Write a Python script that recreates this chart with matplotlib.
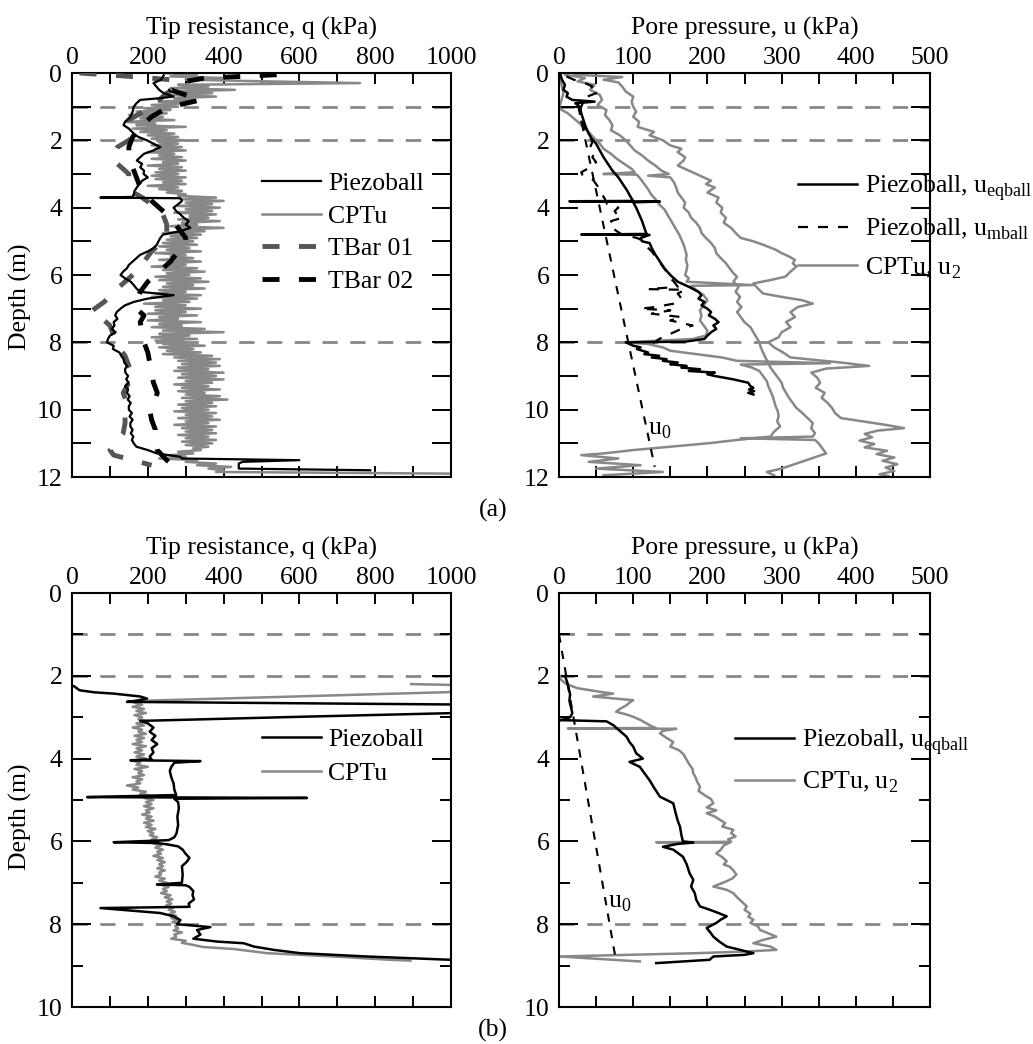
import numpy as np
import matplotlib
matplotlib.use("Agg")
import matplotlib.pyplot as plt
from matplotlib.lines import Line2D

plt.rcParams['font.family'] = ['Liberation Serif', 'DejaVu Serif']
plt.rcParams['mathtext.fontset'] = 'custom'
plt.rcParams['mathtext.rm'] = 'Liberation Serif'
plt.rcParams['font.size'] = 18.5

GRAY = '#888888'
DARK = '#555555'

# ---------------- (a) tip resistance ----------------
piezo_a_depth = [
    0.07, 0.2, 0.3, 0.42, 0.5, 0.6, 0.7, 0.75, 0.8, 0.9,
    1.0, 1.15, 1.3, 1.45, 1.55, 1.65, 1.8, 1.9, 2.0, 2.1,
    2.2, 2.3, 2.4, 2.5, 2.6, 2.7, 2.8, 2.9, 3.0, 3.1,
    3.2, 3.3, 3.4, 3.5, 3.6, 3.68, 3.7, 3.72, 3.8, 3.9,
    4.0, 4.1, 4.2, 4.3, 4.4, 4.5, 4.6, 4.7, 4.8, 4.9,
    5.0, 5.1, 5.2, 5.3, 5.4, 5.5, 5.6, 5.7, 5.8, 5.9,
    6.0, 6.1, 6.2, 6.3, 6.4, 6.5, 6.6, 6.7, 6.8, 6.9,
    7.0, 7.1, 7.2, 7.3, 7.4, 7.5, 7.6, 7.7, 7.8, 7.9,
    8.0, 8.1, 8.2, 8.3, 8.4, 8.5, 8.6, 8.7, 8.8, 8.9,
    9.0, 9.1, 9.2, 9.3, 9.4, 9.5, 9.6, 9.7, 9.8, 9.9,
    10.0, 10.1, 10.2, 10.3, 10.4, 10.5, 10.6, 10.7, 10.8, 10.9,
    11.0, 11.1, 11.2, 11.3, 11.4, 11.45, 11.5, 11.55, 11.6, 11.75,
    11.8]
piezo_a_q = [
    242, 235, 215, 224, 230, 242, 268, 230, 180, 170,
    163, 160, 154, 140, 136, 150, 163, 175, 198, 215,
    233, 215, 190, 180, 171, 185, 180, 190, 189, 200,
    185, 178, 171, 165, 163, 160, 75, 286, 290, 280,
    268, 275, 286, 295, 308, 300, 312, 285, 240, 233,
    228, 224, 215, 200, 180, 170, 160, 150, 145, 135,
    128, 140, 155, 163, 170, 180, 268, 200, 163, 140,
    128, 118, 114, 120, 110, 112, 105, 115, 100, 95,
    92, 110, 108, 125, 130, 136, 138, 145, 140, 141,
    148, 143, 150, 140, 148, 145, 152, 147, 155, 150,
    150, 158, 152, 160, 154, 154, 160, 155, 162, 158,
    163, 170, 200, 224, 286, 290, 600, 450, 440, 440,
    787]

# CPTu tip resistance, sampled every 0.05 m from 0 m
cptu_a_q = [
    240, 330, 260, 400, 300, 520, 760, 280, 360, 260, 430, 280, 370, 250, 380, 270, 320, 230, 300, 210,
    280, 190, 260, 170, 250, 150, 240, 180, 270, 140, 220, 170, 300, 160, 250, 180, 270, 200, 280, 210,
    300, 230, 280, 210, 290, 220, 300, 200, 270, 230, 290, 210, 300, 240, 280, 200, 290, 230, 300, 220,
    280, 210, 300, 220, 290, 240, 300, 200, 280, 230, 290, 250, 300, 280, 380, 290, 400, 300, 370, 280,
    390, 300, 370, 270, 380, 310, 360, 280, 390, 290, 330, 260, 400, 280, 350, 240, 340, 260, 330, 250,
    320, 240, 330, 230, 310, 250, 340, 220, 300, 260, 320, 230, 340, 250, 300, 210, 330, 240, 350, 250,
    310, 220, 340, 230, 360, 250, 320, 240, 350, 230, 300, 220, 340, 210, 330, 240, 310, 190, 300, 220,
    340, 220, 300, 200, 330, 230, 280, 200, 340, 230, 290, 210, 350, 240, 400, 230, 310, 210, 330, 220,
    300, 240, 350, 230, 320, 250, 340, 240, 370, 270, 390, 280, 380, 290, 390, 280, 360, 270, 400, 290,
    380, 280, 400, 300, 370, 270, 360, 290, 390, 280, 350, 300, 390, 290, 410, 300, 370, 280, 380, 290,
    360, 270, 380, 300, 370, 280, 390, 300, 360, 270, 380, 290, 370, 300, 380, 280, 360, 300, 380, 290,
    370, 300, 360, 320, 340, 280, 320, 260, 300, 230, 330, 300, 380, 330, 420, 360, 400, 380, 1000]
cptu_a_depth = np.arange(len(cptu_a_q)) * 0.05

tbar1_depth = [
    0.0, 0.1, 0.2, 0.4, 0.6, 0.8, 1.0, 1.2, 1.4, 1.6,
    1.8, 2.0, 2.2, 2.5, 2.7, 3.0, 3.3, 3.5, 3.7, 3.9,
    4.2, 4.5, 4.8, 5.0, 5.3, 5.6, 5.9, 6.2, 6.5, 6.8,
    7.0, 7.1, 7.2, 7.5, 7.8, 8.1, 8.4, 8.7, 9.0, 9.2,
    9.5, 9.8, 10.1, 10.4, 10.7, 11.0, 11.2, 11.35, 11.5, 11.65]
tbar1_q = [
    20, 150, 260, 280, 250, 230, 200, 180, 150, 160,
    165, 150, 120, 105, 120, 150, 150, 155, 185, 210,
    240, 250, 250, 240, 210, 190, 170, 140, 110, 85,
    60, 50, 70, 100, 110, 120, 140, 150, 165, 150,
    135, 145, 140, 140, 135, 110, 100, 110, 160, 210]

tbar2_depth = [
    0.05, 0.1, 0.15, 0.25, 0.35, 0.5, 0.65, 0.8, 0.95, 1.1,
    1.3, 1.5, 1.7, 1.9, 2.2, 2.5, 2.8, 3.1, 3.4, 3.7,
    4.0, 4.3, 4.6, 4.9, 5.1, 5.3, 5.6, 5.9, 6.2, 6.5,
    6.8, 7.0, 7.2, 7.4, 7.7, 8.0, 8.3, 8.6, 8.9, 9.2,
    9.5, 9.7, 10.0, 10.3, 10.6, 10.9, 11.2, 11.5, 11.7]
tbar2_q = [
    540, 450, 350, 300, 270, 260, 300, 340, 280, 240,
    210, 190, 175, 160, 150, 150, 160, 170, 180, 200,
    230, 260, 280, 300, 300, 280, 260, 230, 200, 180,
    170, 170, 190, 180, 185, 190, 200, 205, 210, 215,
    225, 220, 205, 210, 220, 220, 225, 250, 270]

# ---------------- (a) pore pressure ----------------
eq_a_depth = [
    0.05, 0.2, 0.35, 0.5, 0.6, 0.7, 0.8, 0.85, 0.9, 1.0,
    1.2, 1.4, 1.6, 1.8, 1.95, 2.1, 2.3, 2.5, 2.7, 2.9,
    3.1, 3.3, 3.5, 3.7, 3.8, 3.81, 3.82, 3.84, 4.0, 4.2,
    4.4, 4.6, 4.78, 4.8, 4.81, 4.9, 5.0, 5.05, 5.2, 5.4,
    5.6, 5.8, 6.0, 6.2, 6.35, 6.5, 6.6, 6.7, 6.8, 6.9,
    7.0, 7.1, 7.2, 7.3, 7.4, 7.5, 7.6, 7.7, 7.8, 7.9,
    7.98, 8.0, 8.05, 8.1, 8.15, 8.2, 8.3, 8.35, 8.4, 8.45,
    8.5, 8.55, 8.6, 8.65, 8.7, 8.75, 8.8, 8.85, 8.9, 8.95,
    9.0, 9.1, 9.2, 9.3, 9.35, 9.4, 9.45, 9.5, 9.55]
eq_a_u = [
    2, 4, 8, 6, 12, 10, 18, 48, 22, 28,
    30, 33, 36, 40, 44, 50, 55, 60, 66, 72,
    80, 86, 92, 97, 100, 14, 136, 100, 104, 108,
    112, 115, 118, 30, 122, 110, 112, 122, 125, 130,
    136, 142, 150, 160, 175, 188, 192, 188, 196, 192,
    200, 205, 202, 210, 215, 208, 212, 205, 200, 196,
    170, 90, 95, 100, 110, 105, 120, 115, 135, 125,
    145, 140, 160, 150, 172, 165, 190, 175, 210, 200,
    210, 235, 255, 258, 262, 256, 263, 255, 262]

mb_a_depth = [
    0.1, 0.2, 0.3, 0.4, 0.5, 0.6, 0.7, 0.8, 0.9, 1.0,
    1.15, 1.3, 1.45, 1.6, 1.75, 1.9, 2.05, 2.2, 2.35, 2.5,
    2.65, 2.8, 2.95, 3.05, 3.15, 3.3, 3.45, 3.6, 3.75, 3.9,
    4.0, 4.1, 4.2, 4.3, 4.4, 4.5, 4.6, 4.7, 4.8, 4.9,
    5.0, 5.15, 5.3, 5.45, 5.6, 5.75, 5.9, 6.05, 6.2, 6.35,
    6.42, 6.44, 6.55, 6.7, 6.85, 6.95, 7.0, 7.05, 7.15, 7.25,
    7.35, 7.5, 7.6, 7.75, 7.9, 8.05, 8.1]
mb_a_u = [
    10, 20, 35, 45, 40, 50, 38, 30, 32, 30,
    28, 32, 30, 34, 36, 42, 45, 42, 48, 45,
    50, 42, 30, 32, 45, 50, 55, 58, 62, 65,
    80, 75, 78, 85, 70, 75, 72, 78, 85, 105,
    115, 118, 125, 130, 135, 140, 145, 148, 155, 160,
    120, 170, 160, 165, 155, 130, 110, 150, 125, 165,
    150, 180, 165, 150, 135, 125, 130]

cpt1_a_depth = [
    0.05, 0.12, 0.2, 0.28, 0.4, 0.55, 0.7, 0.85, 1.0, 1.15,
    1.3, 1.45, 1.6, 1.75, 1.85, 2.0, 2.15, 2.25, 2.35, 2.5,
    2.6, 2.75, 2.9, 3.05, 3.2, 3.3, 3.4, 3.55, 3.7, 3.85,
    4.0, 4.15, 4.3, 4.45, 4.6, 4.75, 4.9, 5.0, 5.1, 5.25,
    5.35, 5.45, 5.55, 5.65, 5.75, 5.9, 6.05, 6.15, 6.25, 6.4,
    6.55, 6.65, 6.75, 6.85, 6.95, 7.1, 7.25, 7.4, 7.55, 7.7,
    7.85, 8.0, 8.15, 8.3, 8.45, 8.6, 8.7, 8.78, 8.9, 9.05,
    9.2, 9.35, 9.5, 9.65, 9.8, 9.95, 10.1, 10.25, 10.35, 10.45,
    10.55, 10.62, 10.72, 10.82, 10.92, 11.02, 11.12, 11.22, 11.32, 11.42,
    11.52, 11.62, 11.72, 11.82, 11.92, 11.98]
cpt1_a_u = [
    20, 85, 60, 80, 85, 90, 100, 98, 100, 104,
    100, 108, 106, 128, 122, 140, 150, 165, 160, 170,
    168, 160, 175, 190, 205, 198, 210, 200, 215, 212,
    220, 218, 225, 222, 232, 238, 245, 262, 275, 292,
    300, 310, 318, 315, 320, 312, 305, 285, 262, 268,
    275, 300, 328, 342, 322, 312, 318, 306, 312, 300,
    296, 282, 290, 302, 312, 380, 418, 360, 340, 348,
    352, 346, 358, 354, 362, 368, 372, 380, 410, 440,
    465, 430, 412, 422, 405, 425, 412, 442, 428, 452,
    436, 456, 440, 452, 432, 445]

cpt2_a_depth = [
    0.05, 0.15, 0.25, 0.35, 0.5, 0.65, 0.8, 0.95, 1.1, 1.25,
    1.4, 1.55, 1.7, 1.85, 2.0, 2.15, 2.3, 2.45, 2.6, 2.75,
    2.9, 3.0, 3.05, 3.1, 3.25, 3.4, 3.55, 3.7, 3.85, 4.0,
    4.15, 4.3, 4.45, 4.6, 4.75, 4.9, 5.05, 5.2, 5.35, 5.5,
    5.65, 5.8, 5.95, 6.05, 6.2, 6.35, 6.5, 6.65, 6.8, 6.95,
    7.1, 7.25, 7.4, 7.55, 7.7, 7.85, 8.0, 8.15, 8.3, 8.45,
    8.6, 8.75, 8.9, 9.05, 9.2, 9.35, 9.5, 9.65, 9.8, 9.95,
    10.1, 10.25, 10.4, 10.55, 10.7, 10.8, 10.85, 10.9, 11.0, 11.15,
    11.3, 11.45, 11.6, 11.75, 11.85, 11.95]
cpt2_a_u = [
    8, 35, 25, 48, 42, 55, 58, 52, 64, 62,
    68, 72, 70, 82, 90, 96, 102, 112, 120, 130,
    138, 148, 120, 150, 155, 158, 160, 165, 170, 168,
    175, 178, 185, 190, 192, 198, 205, 210, 212, 218,
    225, 230, 235, 240, 235, 242, 238, 244, 240, 246,
    240, 245, 250, 258, 262, 266, 270, 272, 275, 278,
    282, 285, 290, 295, 300, 302, 306, 310, 315, 320,
    328, 335, 342, 340, 345, 342, 245, 345, 350, 355,
    360, 340, 320, 300, 280, 290]

cpt3_a_depth = [
    0.05, 0.3, 0.6, 0.9, 1.05, 1.2, 1.35, 1.5, 1.65, 1.8,
    1.95, 2.1, 2.25, 2.4, 2.55, 2.7, 2.85, 2.95, 3.0, 3.02,
    3.15, 3.3, 3.45, 3.6, 3.75, 3.9, 4.05, 4.2, 4.35, 4.5,
    4.65, 4.8, 4.95, 5.1, 5.25, 5.4, 5.55, 5.7, 5.85, 6.0,
    6.1, 6.2, 6.3, 6.32, 6.45, 6.6, 6.75, 6.9, 7.05, 7.2,
    7.35, 7.5, 7.65, 7.8, 7.9, 8.0, 8.05, 8.15, 8.25, 8.35,
    8.45, 8.55, 8.62, 8.66, 8.75, 8.85, 9.0, 9.15, 9.3, 9.45,
    9.6, 9.75, 9.9, 10.05, 10.2, 10.35, 10.5, 10.65, 10.8, 10.9,
    11.0, 11.1, 11.2, 11.3, 11.35, 11.45, 11.55, 11.65, 11.75, 11.85,
    11.95]
cpt3_a_u = [
    0, 3, 6, 2, 0, 12, 20, 28, 35, 42,
    48, 55, 60, 70, 78, 88, 98, 102, 60, 105,
    110, 115, 120, 124, 130, 135, 142, 146, 150, 154,
    158, 162, 165, 168, 170, 172, 171, 173, 172, 170,
    175, 172, 262, 178, 185, 195, 200, 195, 190, 192,
    190, 195, 200, 198, 180, 90, 120, 140, 150, 185,
    220, 240, 365, 245, 260, 270, 275, 280, 282, 285,
    288, 290, 292, 295, 296, 294, 298, 290, 285, 240,
    200, 150, 100, 60, 30, 80, 40, 110, 50, 140,
    60]

u0_a_depth = [1.0, 11.7]
u0_a_u = [26, 129]

# ---------------- (b) tip resistance ----------------
piezo_b_depth = [
    2.25, 2.35, 2.4, 2.43, 2.47, 2.5, 2.55, 2.6, 2.63, 2.7,
    2.88, 2.99, 3.09, 3.15, 3.25, 3.35, 3.45, 3.55, 3.65, 3.75,
    3.85, 3.95, 4.02, 4.04, 4.06, 4.1, 4.2, 4.3, 4.45, 4.6,
    4.75, 4.88, 4.93, 4.95, 4.97, 5.05, 5.2, 5.4, 5.6, 5.8,
    5.9, 5.97, 6.02, 6.04, 6.07, 6.12, 6.2, 6.3, 6.4, 6.5,
    6.6, 6.8, 7.0, 7.04, 7.06, 7.1, 7.2, 7.3, 7.4, 7.5,
    7.58, 7.61, 7.73, 7.81, 7.9, 8.0, 8.07, 8.14, 8.25, 8.35,
    8.42, 8.46, 8.54, 8.62, 8.7, 8.78, 8.86]
piezo_b_q = [
    5, 20, 60, 110, 150, 180, 198, 170, 145, 1100,
    1100, 602, 180, 200, 215, 205, 220, 210, 225, 210,
    215, 205, 210, 154, 339, 270, 262, 258, 262, 268,
    270, 275, 40, 620, 270, 280, 282, 278, 280, 276,
    270, 255, 110, 224, 250, 280, 292, 300, 310, 302,
    290, 292, 290, 224, 300, 310, 320, 318, 322, 308,
    310, 75, 233, 268, 286, 277, 365, 330, 339, 320,
    383, 453, 480, 532, 602, 778, 1000]

cptu_b_head_depth = [2.2, 2.23, 2.38]
cptu_b_head_q = [895, 1050, 1050]
# CPTu noisy part, every 0.05 m from 2.60 m
cptu_b_q = [
    200, 165, 185, 160, 190, 170, 195, 165, 185, 175, 200, 170, 190, 160, 185, 175, 195, 165, 190, 170,
    185, 160, 195, 170, 185, 165, 190, 170, 195, 160, 180, 170, 200, 165, 185, 175, 190, 160, 185, 170,
    180, 145, 175, 160, 195, 180, 210, 190, 215, 195, 210, 190, 215, 195, 205, 185, 210, 195, 215, 190,
    210, 195, 220, 200, 215, 205, 225, 210, 230, 215, 235, 220, 240, 225, 235, 215, 240, 225, 245, 230,
    240, 225, 245, 230, 235, 220, 245, 230, 250, 235, 255, 240, 250, 235, 260, 245, 265, 250, 262, 248,
    268, 255, 272, 258, 275, 262, 278, 265, 285, 272, 280, 268, 290, 270, 275, 262, 300, 290, 320, 345]
cptu_b_depth = 2.6 + np.arange(len(cptu_b_q)) * 0.05
cptu_b_tail_depth = [8.6, 8.7, 8.78, 8.86, 8.88]
cptu_b_tail_q = [427, 515, 690, 840, 893]

# ---------------- (b) pore pressure ----------------
eq_b_depth = [
    2.0, 2.15, 2.3, 2.45, 2.6, 2.75, 2.9, 3.0, 3.05, 3.07,
    3.1, 3.19, 3.3, 3.47, 3.6, 3.71, 3.87, 4.0, 4.08, 4.2,
    4.35, 4.52, 4.7, 4.92, 5.08, 5.3, 5.5, 5.64, 5.85, 6.0,
    6.03, 6.06, 6.13, 6.2, 6.37, 6.55, 6.77, 6.93, 7.09, 7.25,
    7.41, 7.57, 7.65, 7.73, 7.81, 7.89, 7.97, 8.09, 8.2, 8.3,
    8.42, 8.54, 8.62, 8.7, 8.74, 8.78, 8.86, 8.94]
eq_b_u = [
    8, 11, 13, 15, 14, 16, 18, 15, 8, 1,
    64, 73, 80, 91, 95, 100, 104, 113, 95, 109,
    115, 122, 128, 136, 154, 157, 160, 163, 165, 167,
    181, 160, 140, 154, 167, 172, 176, 181, 178, 183,
    185, 190, 203, 215, 226, 218, 212, 199, 204, 208,
    216, 226, 244, 262, 250, 208, 203, 131]

cpt_b_u_depth = [
    2.0, 2.1, 2.2, 2.3, 2.4, 2.43, 2.5, 2.59, 2.65, 2.71,
    2.8, 2.87, 2.93, 2.99, 3.07, 3.15, 3.22, 3.26, 3.27, 3.28,
    3.33, 3.39, 3.5, 3.6, 3.71, 3.8, 3.9, 4.03, 4.15, 4.25,
    4.36, 4.45, 4.55, 4.68, 4.78, 4.88, 4.98, 5.08, 5.18, 5.25,
    5.32, 5.4, 5.48, 5.56, 5.64, 5.72, 5.8, 5.88, 5.95, 6.01,
    6.02, 6.03, 6.1, 6.2, 6.29, 6.38, 6.48, 6.56, 6.61, 6.7,
    6.8, 6.89, 6.97, 7.09, 7.17, 7.25, 7.35, 7.45, 7.57, 7.65,
    7.75, 7.82, 7.89, 7.97, 8.05, 8.14, 8.22, 8.3, 8.38, 8.46,
    8.54, 8.62, 8.66, 8.7, 8.78, 8.9]
cpt_b_u = [
    1, 3, 10, 25, 60, 73, 46, 100, 95, 91,
    82, 77, 90, 100, 110, 118, 125, 130, 12, 158,
    140, 136, 145, 154, 150, 162, 168, 172, 176, 180,
    181, 184, 186, 190, 188, 196, 205, 208, 199, 212,
    199, 210, 217, 224, 220, 235, 232, 238, 228, 232,
    131, 230, 222, 218, 212, 220, 226, 222, 230, 235,
    239, 234, 225, 208, 226, 235, 240, 246, 253, 250,
    258, 255, 262, 258, 268, 271, 282, 293, 275, 262,
    285, 293, 253, 185, 1, 109]

u0_b_depth = [1.0, 8.9]
u0_b_u = [0, 77]

layer_depths = [1, 2, 8]

W, H = 1033, 1044
fig = plt.figure(figsize=(W / 100, H / 100), dpi=100)


def make_axes(x0, x1, y0, y1):
    return fig.add_axes([x0 / W, 1 - y1 / H, (x1 - x0) / W, (y1 - y0) / H])


def style(ax, xmax, xstep, ymax, xlabel, depth_label, long_minor_y, ylab_y):
    ax.set_xlim(0, xmax)
    ax.set_ylim(ymax, 0)
    ax.set_xticks(np.arange(0, xmax + 1, xstep))
    ax.set_xticks(np.arange(0, xmax + 1, xstep / 2), minor=True)
    ax.set_yticks(np.arange(0, ymax + 1, 2))
    ax.set_yticks(np.arange(0, ymax + 1, 1), minor=True)
    ax.xaxis.tick_top()
    ax.xaxis.set_label_position('top')
    ax.tick_params(which='both', direction='in', top=True, bottom=True,
                   left=True, right=True, labeltop=True, labelbottom=False,
                   width=1.4, labelsize=18.5)
    ax.tick_params(axis='x', which='both', length=8, pad=3)
    ax.tick_params(axis='y', which='major', length=14, pad=7)
    ax.tick_params(axis='y', which='minor', length=14 if long_minor_y else 8)
    for sp in ax.spines.values():
        sp.set_linewidth(1.5)
    ax.set_xlabel(xlabel, fontsize=18.5, labelpad=9)
    if depth_label:
        ax.set_ylabel('Depth (m)', fontsize=18.5)
        ax.yaxis.set_label_coords(-0.105, ylab_y)
    for d in layer_depths:
        ax.axhline(d, color=GRAY, lw=2, ls=(0, (5.5, 4.5)), zorder=1)


ax_qa = make_axes(72, 451, 73, 477)
ax_ua = make_axes(559, 930, 73, 477)
ax_qb = make_axes(72, 451, 593, 1007)
ax_ub = make_axes(559, 930, 593, 1007)

style(ax_qa, 1000, 200, 12, 'Tip resistance, q (kPa)', True, True, 0.446)
style(ax_ua, 500, 100, 12, 'Pore pressure, u (kPa)', False, True, 0.446)
style(ax_qb, 1000, 200, 10, 'Tip resistance, q (kPa)', True, False, 0.46)
style(ax_ub, 500, 100, 10, 'Pore pressure, u (kPa)', False, False, 0.46)

tbar_ls = (0, (3.5, 4))
mb_ls = (0, (4.5, 4.5))
u0_ls = (0, (4, 4))

# (a) tip resistance
ax_qa.plot(cptu_a_q, cptu_a_depth, color=GRAY, lw=1.8, zorder=2)
ax_qa.plot(tbar1_q, tbar1_depth, color=DARK, lw=3.5, ls=tbar_ls, zorder=3)
ax_qa.plot(tbar2_q, tbar2_depth, color='black', lw=3.5, ls=tbar_ls, zorder=3)
ax_qa.plot(piezo_a_q, piezo_a_depth, color='black', lw=1.6, zorder=4)
h_qa = [Line2D([], [], color='black', lw=1.6),
        Line2D([], [], color=GRAY, lw=1.8),
        Line2D([], [], color=DARK, lw=3.5, ls=tbar_ls),
        Line2D([], [], color='black', lw=3.5, ls=tbar_ls)]
ax_qa.legend(h_qa, ['Piezoball', 'CPTu', 'TBar 01', 'TBar 02'],
             loc='upper left', bbox_to_anchor=(0.50, 0.755), frameon=False,
             borderpad=0, borderaxespad=0, handlelength=2.3,
             handletextpad=0.3, labelspacing=0.38, fontsize=18.5)

# (a) pore pressure
for uu, dd in [(cpt1_a_u, cpt1_a_depth), (cpt2_a_u, cpt2_a_depth), (cpt3_a_u, cpt3_a_depth)]:
    ax_ua.plot(uu, dd, color=GRAY, lw=1.8, zorder=2)
ax_ua.plot(mb_a_u, mb_a_depth, color='black', lw=1.6, ls=mb_ls, zorder=3)
ax_ua.plot(eq_a_u, eq_a_depth, color='black', lw=1.8, zorder=4)
ax_ua.plot(u0_a_u, u0_a_depth, color='black', lw=1.5, ls=u0_ls, zorder=3)
ax_ua.text(136, 10.6, r'u$_\mathregular{0}$', fontsize=18.5, ha='center', va='center')
h_ua = [Line2D([], [], color='black', lw=1.8),
        Line2D([], [], color='black', lw=1.6, ls=mb_ls),
        Line2D([], [], color=GRAY, lw=1.8)]
ax_ua.legend(h_ua, [r'Piezoball, u$_\mathregular{eqball}$',
                    r'Piezoball, u$_\mathregular{mball}$',
                    r'CPTu, u$_\mathregular{2}$'],
             loc='upper left', bbox_to_anchor=(0.644, 0.752), frameon=False,
             borderpad=0, borderaxespad=0, handlelength=2.3,
             handletextpad=0.3, labelspacing=0.52, fontsize=18.5)

# (b) tip resistance
ax_qb.plot(cptu_b_head_q + list(cptu_b_q) + cptu_b_tail_q,
           cptu_b_head_depth + list(cptu_b_depth) + cptu_b_tail_depth,
           color=GRAY, lw=1.8, zorder=2)
ax_qb.plot(piezo_b_q, piezo_b_depth, color='black', lw=1.8, zorder=3)
h_qb = [Line2D([], [], color='black', lw=1.8), Line2D([], [], color=GRAY, lw=1.8)]
ax_qb.legend(h_qb, ['Piezoball', 'CPTu'],
             loc='upper left', bbox_to_anchor=(0.50, 0.674), frameon=False,
             borderpad=0, borderaxespad=0, handlelength=2.3,
             handletextpad=0.3, labelspacing=0.42, fontsize=18.5)

# (b) pore pressure
ax_ub.plot(cpt_b_u, cpt_b_u_depth, color=GRAY, lw=1.8, zorder=2)
ax_ub.plot(eq_b_u, eq_b_depth, color='black', lw=1.8, zorder=3)
ax_ub.plot(u0_b_u, u0_b_depth, color='black', lw=1.5, ls=u0_ls, zorder=3)
ax_ub.text(82, 7.5, r'u$_\mathregular{0}$', fontsize=18.5, ha='center', va='center')
h_ub = [Line2D([], [], color='black', lw=1.8), Line2D([], [], color=GRAY, lw=1.8)]
ax_ub.legend(h_ub, [r'Piezoball, u$_\mathregular{eqball}$', r'CPTu, u$_\mathregular{2}$'],
             loc='upper left', bbox_to_anchor=(0.474, 0.676), frameon=False,
             borderpad=0, borderaxespad=0, handlelength=2.3,
             handletextpad=0.3, labelspacing=0.5, fontsize=18.5)

fig.text(493 / W, 1 - 510 / H, '(a)', ha='center', va='center', fontsize=18.5)
fig.text(493 / W, 1 - 1030 / H, '(b)', ha='center', va='center', fontsize=18.5)

fig.savefig('out.png', dpi=100)
